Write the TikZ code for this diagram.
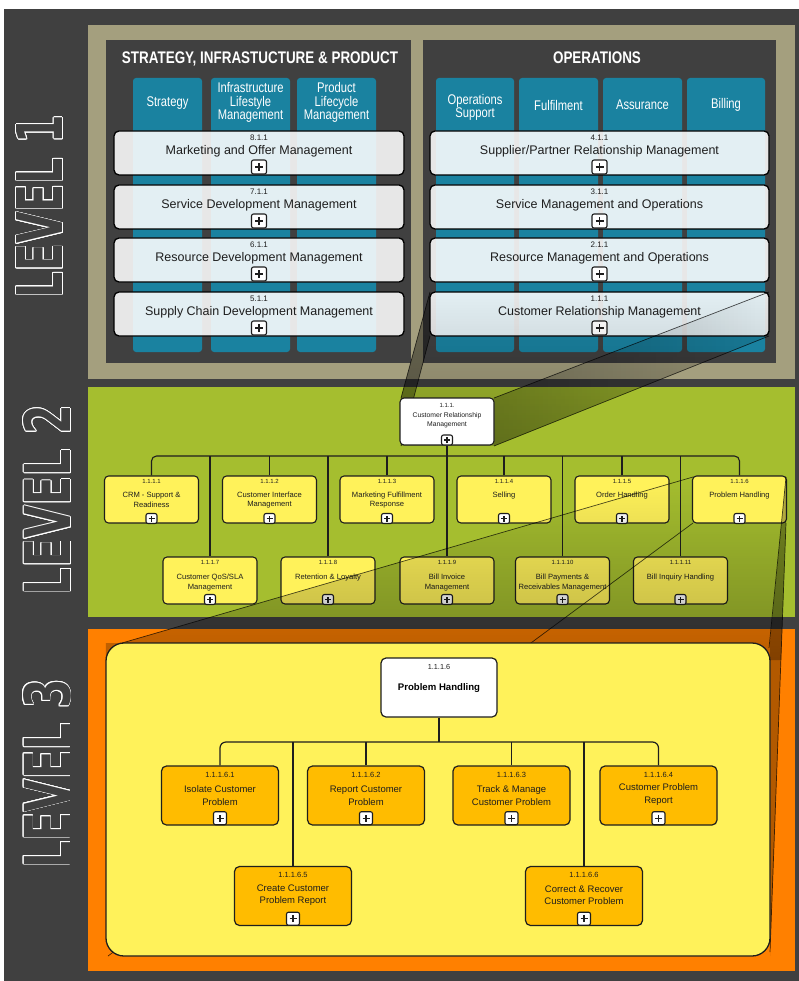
\documentclass[tikz,border=0pt]{standalone}
\usepackage{fontspec}
\setmainfont{Liberation Sans}
\newfontfamily\condfont[FakeStretch=0.8]{Liberation Sans}
\newfontfamily\lvlfont{DejaVu Sans}
\usepackage{contour}
\contourlength{0.8pt}
\usetikzlibrary{fadings}
\definecolor{bgdark}{HTML}{404040}
\definecolor{khaki}{HTML}{A49F7E}
\definecolor{tealc}{HTML}{1A82A0}
\definecolor{greenb}{HTML}{A5BE2F}
\definecolor{orangeb}{HTML}{FF8000}
\definecolor{yel}{HTML}{FFF25A}
\definecolor{amber}{HTML}{FFBC00}
\definecolor{inkc}{HTML}{1E1E1E}

\tikzset{
  conn/.style={draw=inkc, line width=1.1pt},
  coneline/.style={draw=black, draw opacity=0.7, line width=0.7pt},
  colbox/.style={fill=tealc, rounded corners=3pt, inner sep=0pt, minimum height=274pt},
  colhead/.style={text=white, font=\condfont\fontsize{14}{13.5}\selectfont, align=center, inner sep=0pt},
  grouptitle/.style={text=white, font=\condfont\bfseries\fontsize{16.8}{18}\selectfont, inner sep=0pt},
  lonerow/.style={draw=black, line width=1.3pt, fill=white, fill opacity=0.88, rounded corners=5pt, minimum height=44pt, inner sep=0pt},
  l1num/.style={text=inkc, font=\fontsize{8}{9}\selectfont, inner sep=0pt},
  l1ttl/.style={text=inkc, font=\fontsize{12.5}{14}\selectfont, inner sep=0pt},
  plusbox/.style n args={3}{draw=inkc, fill=white, line width=1.1pt, rounded corners=2pt, inner sep=0pt,
     minimum width=#1, minimum height=#2,
     path picture={\draw[inkc, line width=1.2pt]
        ([xshift=-#3]path picture bounding box.center) -- ([xshift=#3]path picture bounding box.center)
        ([yshift=-#3]path picture bounding box.center) -- ([yshift=#3]path picture bounding box.center);}},
  ltwobox/.style={draw=inkc, line width=1.1pt, rounded corners=4pt, minimum width=94pt, minimum height=47pt, inner sep=0pt},
  l2num/.style={text=inkc, font=\fontsize{6}{7}\selectfont, inner sep=0pt},
  l2ttl/.style={text=inkc, font=\fontsize{7.6}{9.5}\selectfont, align=center, inner sep=0pt},
  lthreebox/.style={draw=inkc, fill=amber, line width=1.2pt, rounded corners=5pt, minimum width=117pt, minimum height=59pt, inner sep=0pt},
  l3num/.style={text=inkc, font=\fontsize{7.5}{8}\selectfont, inner sep=0pt},
  l3ttl/.style={text=inkc, font=\fontsize{9.5}{12.5}\selectfont, align=center, inner sep=0pt},
  lvl/.style={rotate=90, text=bgdark, font=\lvlfont\bfseries, inner sep=0pt}
}

\newcommand\Lone[6]{%
  \node[lonerow, minimum width=#4pt] (#1) at (#2,#3) {};
  \node[l1num] (#1n) at (#2,#3-15) {#5};
  \node[l1ttl] (#1t) at (#2,#3-2) {#6};
  \node[plusbox={15pt}{14pt}{4pt}] (#1p) at (#2,#3+14) {};
}
\newcommand\Ltwo[6]{%
  \node[ltwobox, fill=yel] (#1) at (#2,#3) {};
  \node[l2num] (#1n) at (#2,#3-18.3) {#4};
  \node[l2ttl] (#1t) at (#2,#6) {#5};
  \node[plusbox={11pt}{10pt}{3pt}] (#1p) at (#2,#3+19) {};
}
\newcommand\Lthree[6]{%
  \node[lthreebox] (#1) at (#2,#3) {};
  \node[l3num] (#1n) at (#2,#3-20.7) {#4};
  \node[l3ttl] (#1t) at (#2,#6) {#5};
  \node[plusbox={13pt}{13pt}{3.5pt}] (#1p) at (#2,#3+22.7) {};
}

\begin{document}
\begin{tikzpicture}[x=1pt,y=-1pt]
\useasboundingbox (0,0) rectangle (799,981);
\fill[white] (0,0) rectangle (799,981);
\fill[bgdark] (4,9) rectangle (799,981);

% ---------------- LEVEL 1 ----------------
\fill[khaki] (88,25) rectangle (795,379);
\fill[bgdark] (106,40) rectangle (411,363);
\fill[bgdark] (423,40) rectangle (776,363);

\node[grouptitle] (gsip) at (260,59) {STRATEGY, INFRASTUCTURE \& PRODUCT};
\node[grouptitle] (gops) at (597,58) {OPERATIONS};

\node[colbox, minimum width=69pt] (cS) at (167.5,215) {};
\node[colbox, minimum width=79pt] (cI) at (250.5,215) {};
\node[colbox, minimum width=79pt] (cP) at (336.5,215) {};
\node[colbox, minimum width=78pt] (cO) at (475,215) {};
\node[colbox, minimum width=79pt] (cF) at (558.5,215) {};
\node[colbox, minimum width=79pt] (cA) at (642.5,215) {};
\node[colbox, minimum width=78pt] (cB) at (726,215) {};

\node[colhead] (hS) at (167.5,103) {Strategy};
\node[colhead] (hI) at (250.5,102.5) {Infrastructure\\Lifestyle\\Management};
\node[colhead] (hP) at (336.5,102.5) {Product\\Lifecycle\\Management};
\node[colhead] (hO) at (475,107.5) {Operations\\Support};
\node[colhead] (hF) at (558.5,105) {Fulfilment};
\node[colhead] (hA) at (642.5,105) {Assurance};
\node[colhead] (hB) at (726,105) {Billing};

\Lone{ra}{259}{153}{290}{8.1.1}{Marketing and Offer Management}
\Lone{rb}{259}{207}{290}{7.1.1}{Service Development Management}
\Lone{rc}{259}{260}{290}{6.1.1}{Resource Development Management}
\Lone{rd}{259}{314}{290}{5.1.1}{Supply Chain Development Management}
\Lone{re}{599.5}{153}{339}{4.1.1}{Supplier/Partner Relationship Management}
\Lone{rf}{599.5}{207}{339}{3.1.1}{Service Management and Operations}
\Lone{rg}{599.5}{260}{339}{2.1.1}{Resource Management and Operations}
\Lone{rh}{599.5}{314}{339}{1.1.1}{Customer Relationship Management}

% ---------------- bands ----------------
\fill[greenb] (88,387) rectangle (795,617);
\fill[orangeb] (88,629) rectangle (795,971);

% ---------------- cone 1 ----------------
\fill[black, fill opacity=0.22, path fading=north] (430,292) -- (769,292) -- (769,336) -- (494,446) -- (401,446) -- (401,398) -- cycle;
\fill[black, fill opacity=0.25, path fading=east] (769,292) -- (769,336) -- (494,446) -- (494,398) -- cycle;
\fill[black, fill opacity=0.35] (430,292) -- (430,336) -- (401,446) -- (401,398) -- cycle;
\draw[coneline] (430,292) -- (401,398) (430,336) -- (401,446) (769,292) -- (494,398) (769,336) -- (494,446);

% ---------------- LEVEL 2 ----------------
\node[ltwobox, fill=white] (root2) at (447,421.5) {};
\node[l2num] (root2n) at (447,405) {1.1.1.};
\node[inner sep=0pt, text=inkc, font=\fontsize{6.8}{9}\selectfont, align=center] (root2t) at (447,420.5) {Customer Relationship\\Management};
\node[plusbox={11pt}{10pt}{3pt}] (root2p) at (447,440) {};

\Ltwo{na}{151.5}{499.5}{1.1.1.1}{CRM - Support \&\\Readiness}{500}
\Ltwo{nb}{269.5}{499.5}{1.1.1.2}{Customer Interface\\Management}{500}
\Ltwo{nc}{387}{499.5}{1.1.1.3}{Marketing Fulfillment\\Response}{500}
\Ltwo{nd}{504}{499.5}{1.1.1.4}{Selling}{496}
\Ltwo{ne}{622}{499.5}{1.1.1.5}{Order Handling}{496}
\Ltwo{nf}{739.5}{499.5}{1.1.1.6}{Problem Handling}{496}
\Ltwo{ng}{210}{580.5}{1.1.1.7}{Customer QoS/SLA\\Management}{582.5}
\Ltwo{nh}{328}{580.5}{1.1.1.8}{Retention \& Loyalty}{577.5}
\Ltwo{ni}{447}{580.5}{1.1.1.9}{Bill Invoice\\Management}{582.5}
\Ltwo{nj}{562.5}{580.5}{1.1.1.10}{Bill Payments \&\\Receivables Management}{582.5}
\Ltwo{nk}{680.5}{580.5}{1.1.1.11}{Bill Inquiry Handling}{577.5}

\coordinate (bus2) at (447,456);
\draw[conn, rounded corners=5pt] (na.north) |- (bus2) -| (nf.north);
\draw[conn] (root2p.south) -- (ni.north);
\foreach \n in {nb,nc,nd,ne,ng,nh,nj,nk} {\draw[conn] (\n.north) -- (\n.north |- bus2);}

% ---------------- cone 2 ----------------
\fill[black, fill opacity=0.27, path fading=north] (693,477) -- (693,523) -- (786,523) -- (781.3,660) -- (106,660) -- (106,643) -- (122,643) -- cycle;
\fill[black, fill opacity=0.3] (786,477) -- (786,523) -- (770,956) -- (770,643) -- cycle;
\draw[coneline] (693,477) -- (122,643) (693,523) -- (108,956) (786,477) -- (769,648) (786,523) -- (770,952);

% ---------------- LEVEL 3 ----------------
\node[draw=inkc, fill=yel, line width=1.3pt, rounded corners=18pt, minimum width=664pt, minimum height=313pt, inner sep=0pt] (L3) at (438,799.5) {};

\node[draw=inkc, fill=white, line width=1.2pt, rounded corners=5pt, minimum width=116pt, minimum height=59pt, inner sep=0pt] (root3) at (439,687.5) {};
\node[l3num, font=\fontsize{7.3}{8}\selectfont] (root3n) at (439,667) {1.1.1.6};
\node[inner sep=0pt, text=black, font=\bfseries\fontsize{9.6}{11}\selectfont] (root3t) at (439,688) {Problem Handling};

\Lthree{ma}{220}{795.5}{1.1.1.6.1}{Isolate Customer\\Problem}{795.5}
\Lthree{mb}{366}{795.5}{1.1.1.6.2}{Report Customer\\Problem}{795.5}
\Lthree{mc}{511.5}{795.5}{1.1.1.6.3}{Track \& Manage\\Customer Problem}{795.5}
\Lthree{md}{658.5}{795.5}{1.1.1.6.4}{Customer Problem\\Report}{794.5}
\Lthree{me}{293}{896}{1.1.1.6.5}{Create Customer\\Problem Report}{895}
\Lthree{mf}{584}{896}{1.1.1.6.6}{Correct \& Recover\\Customer Problem}{895}

\coordinate (bus3) at (439,742);
\draw[conn, line width=1.2pt, rounded corners=6pt] (ma.north) |- (bus3) -| (md.north);
\draw[conn, line width=1.2pt] (root3.south) -- (bus3);
\foreach \n in {mb,mc,me,mf} {\draw[conn, line width=1.2pt] (\n.north) -- (\n.north |- bus3);}

% ---------------- level labels ----------------
\node[lvl] (lv1) at (40,206.5) {\contour{white}{\resizebox{183pt}{46pt}{LEVEL 1}}};
\node[lvl] (lv2) at (47.5,500) {\contour{white}{\resizebox{190pt}{47pt}{LEVEL 2}}};
\node[lvl] (lv3) at (47.5,773.5) {\contour{white}{\resizebox{189pt}{47pt}{LEVEL 3}}};
\end{tikzpicture}
\end{document}
